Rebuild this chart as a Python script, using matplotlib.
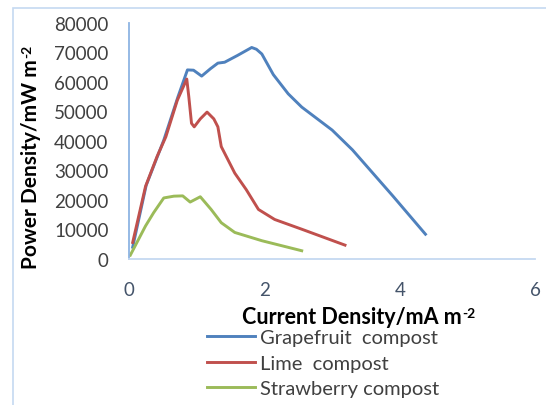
import matplotlib
matplotlib.use("Agg")
import matplotlib.pyplot as plt
from matplotlib.patches import Rectangle

plt.rcParams["font.family"] = ["Lato", "DejaVu Sans"]

# Grapefruit compost
grape_x = [0.05, 0.25, 0.51, 0.72, 0.86, 0.95, 1.07, 1.20, 1.31, 1.41, 1.60, 1.81, 1.88,
           1.96, 2.13, 2.35, 2.55, 3.00, 3.30, 3.90, 4.38]
grape_y = [4000, 25000, 40300, 55000, 64100, 64000, 62000, 64500, 66400, 66700, 69000, 71700,
           71100, 69500, 62500, 56000, 51500, 43700, 37000, 21300, 8400]

# Lime compost
lime_x = [0.05, 0.24, 0.41, 0.54, 0.71, 0.85, 0.88, 0.92, 0.96, 1.05, 1.15, 1.25, 1.31, 1.36,
          1.56, 1.73, 1.91, 2.15, 2.55, 3.19]
lime_y = [5600, 24600, 34700, 41400, 53800, 61000, 55000, 46000, 44800, 47500, 49800, 47500,
          44800, 38100, 29100, 23500, 16800, 13400, 10100, 4700]

# Strawberry compost
straw_x = [0.015, 0.24, 0.36, 0.51, 0.66, 0.79, 0.90, 1.05, 1.21, 1.36, 1.56, 1.96, 2.55]
straw_y = [1300, 11200, 15700, 20700, 21300, 21400, 19300, 21100, 16800, 12300, 9000, 6200, 2800]

x_ticks = [0, 2, 4, 6]
y_ticks = [0, 10000, 20000, 30000, 40000, 50000, 60000, 70000, 80000]

W, H = 546, 406
fig = plt.figure(figsize=(W / 100, H / 100), dpi=100)

# chart area border (light blue frame, cut off on right / bottom)
fig.patches.append(Rectangle((13 / W, -0.1), 1.2, 1 - 9 / H + 0.1, transform=fig.transFigure,
                             fill=False, edgecolor="#C5D9F1", lw=1.2))

ax = fig.add_axes([129.3 / W, 1 - 260 / H, (535 - 129.3) / W, (260 - 24) / H])
ax.plot(grape_x, grape_y, color="#4F81BD", lw=2.1, label="Grapefruit  compost")
ax.plot(lime_x, lime_y, color="#C0504D", lw=2.1, label="Lime  compost")
ax.plot(straw_x, straw_y, color="#9BBB59", lw=2.1, label="Strawberry compost")

ax.set_xlim(0, 6)
ax.set_ylim(0, 80000)
ax.set_xticks(x_ticks)
ax.set_yticks(y_ticks)
ax.set_yticklabels([str(v) for v in y_ticks])
ax.tick_params(axis="both", length=0, labelsize=13.5)
ax.tick_params(axis="x", pad=16, labelcolor="#44546A")
ax.tick_params(axis="y", pad=15, labelcolor="#404040")
for s in ("top", "right"):
    ax.spines[s].set_visible(False)
ax.spines["left"].set_color("#8EB4E3")
ax.spines["left"].set_linewidth(1.3)
ax.spines["bottom"].set_color("#C5D9F1")
ax.spines["bottom"].set_linewidth(1.3)

# axis titles with small superscript "-2"
xt = fig.text(352 / W, 1 - 318 / H, "Current Density/mA m", ha="center", va="center",
              fontsize=15.5, fontweight="bold", color="black")
ax.annotate("-2", xy=(1, 1), xycoords=xt, xytext=(0.5, -0.5), textcoords="offset points",
            ha="left", va="top", fontsize=10, fontweight="bold", color="black")

yt = fig.text(31 / W, 1 - 164 / H, "Power Density/mW m", ha="center", va="center",
              rotation=90, fontsize=15, fontweight="bold", color="black")
ax.annotate("-2", xy=(0, 1), xycoords=yt, xytext=(0.5, 0.5), textcoords="offset points",
            ha="left", va="bottom", rotation=90, fontsize=10, fontweight="bold",
            color="black")

fig.legend(loc="upper left", bbox_to_anchor=(207 / W, 1 - 330 / H), frameon=False,
           fontsize=14.5, handlelength=2.4, handletextpad=0.25, labelspacing=0.42,
           borderpad=0, borderaxespad=0, labelcolor="#404040")

fig.savefig("out.png", dpi=100, facecolor="white")
